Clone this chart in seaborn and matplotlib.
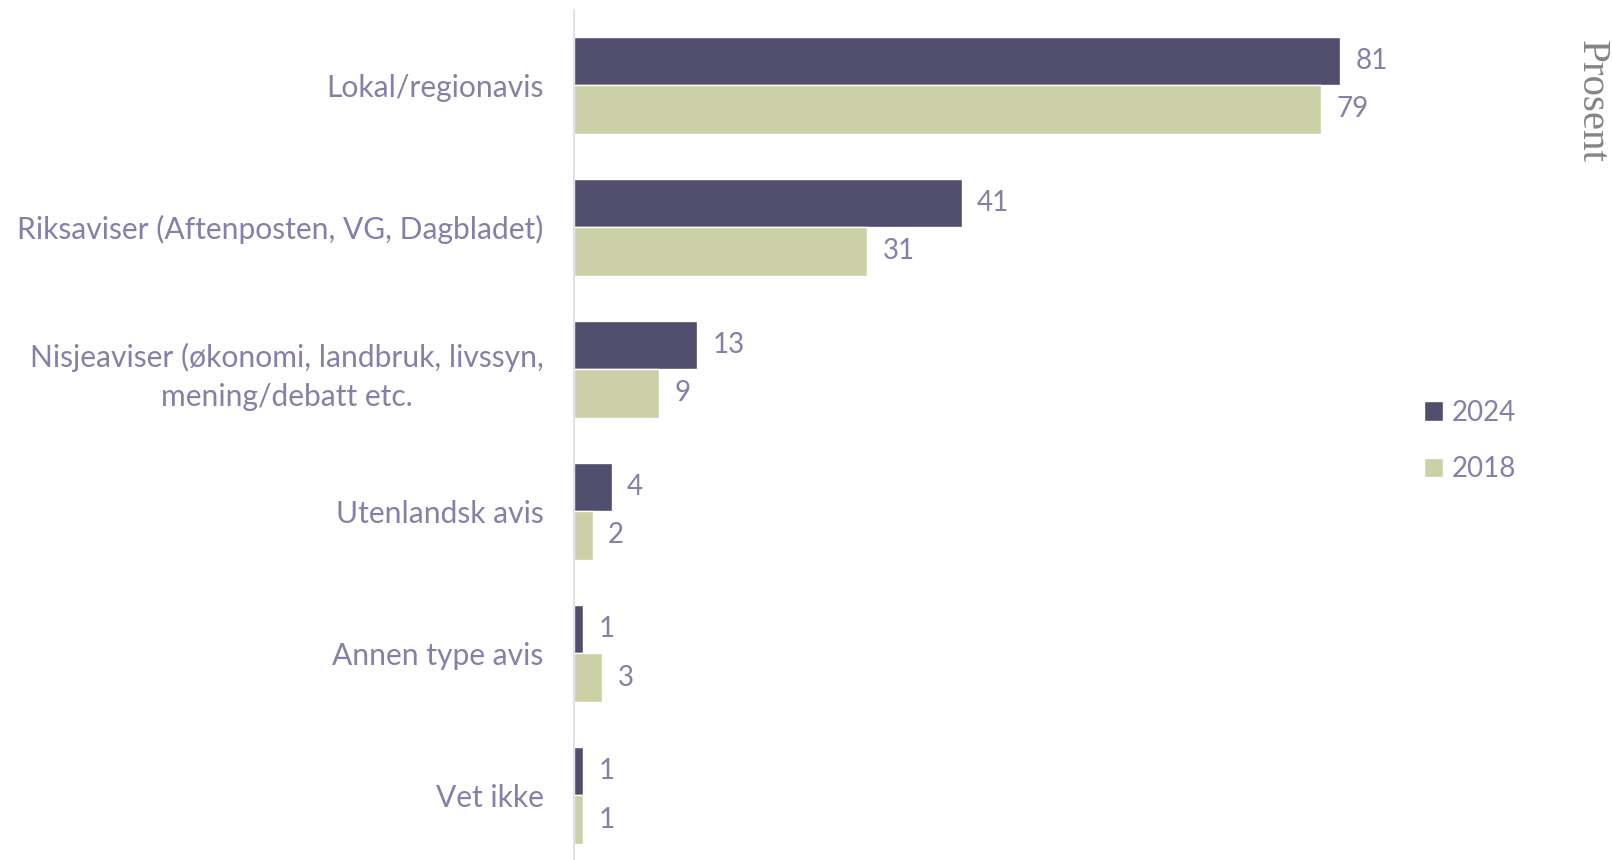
import matplotlib
matplotlib.use("Agg")
import matplotlib.pyplot as plt
import seaborn as sns
import pandas as pd

categories = [
    "Lokal/regionavis",
    "Riksaviser (Aftenposten, VG, Dagbladet)",
    "Nisjeaviser (økonomi, landbruk, livssyn,\nmening/debatt etc.",
    "Utenlandsk avis",
    "Annen type avis",
    "Vet ikke",
]
years = ["2024", "2018"]
values_2024 = [81, 41, 13, 4, 1, 1]
values_2018 = [79, 31, 9, 2, 3, 1]
axis_title = "Prosent"

colors = {"2024": "#524E6E", "2018": "#CBD0A6"}
text_color = "#8480A8"

df = pd.DataFrame({
    "kategori": categories * 2,
    "år": ["2024"] * len(categories) + ["2018"] * len(categories),
    "verdi": values_2024 + values_2018,
})

sns.set_theme(style="white")
plt.rcParams["font.family"] = ["Lato", "DejaVu Sans"]

fig = plt.figure(figsize=(16.12, 8.6), dpi=100)
ax = fig.add_axes([574 / 1612, 0.0, (1400 - 574) / 1612, 1 - 10 / 860])

sns.barplot(data=df, y="kategori", x="verdi", hue="år", hue_order=years,
            order=categories, palette=colors, width=0.68, orient="h",
            saturation=1, ax=ax, errorbar=None)

ax.set_xlim(0, (1400 - 574) / ((1340 - 574) / 81))
ax.set_ylim(5.455, -0.53)

for cont in ax.containers:
    ax.bar_label(cont, padding=11, fontsize=20, color=text_color)

ax.set_xlabel("")
ax.set_ylabel("")
ax.set_xticks([])
ax.tick_params(axis="y", length=0, pad=22, labelsize=21.6, labelcolor=text_color)
for lbl in ax.get_yticklabels():
    lbl.set_horizontalalignment("right")
    lbl.set_multialignment("center")
    lbl.set_linespacing(1.45)

for s in ["top", "right", "bottom"]:
    ax.spines[s].set_visible(False)
ax.spines["left"].set_color("#DCDCE6")
ax.spines["left"].set_linewidth(1.2)

handles, labels = ax.get_legend_handles_labels()
leg = ax.legend(handles, labels, loc="center left", bbox_to_anchor=(1424 / 1612, 1 - 441 / 860),
                bbox_transform=fig.transFigure, frameon=False, fontsize=20,
                handlelength=0.7, handleheight=0.7, handletextpad=0.3, labelspacing=1.1,
                borderpad=0, borderaxespad=0)
for t in leg.get_texts():
    t.set_color(text_color)

fig.text(1591 / 1612, 1 - 102 / 860, axis_title, rotation=-90, ha="center", va="center",
         fontsize=29.5, color="#858585", family=["Liberation Serif", "DejaVu Serif"])

fig.savefig("out.png", dpi=100)
